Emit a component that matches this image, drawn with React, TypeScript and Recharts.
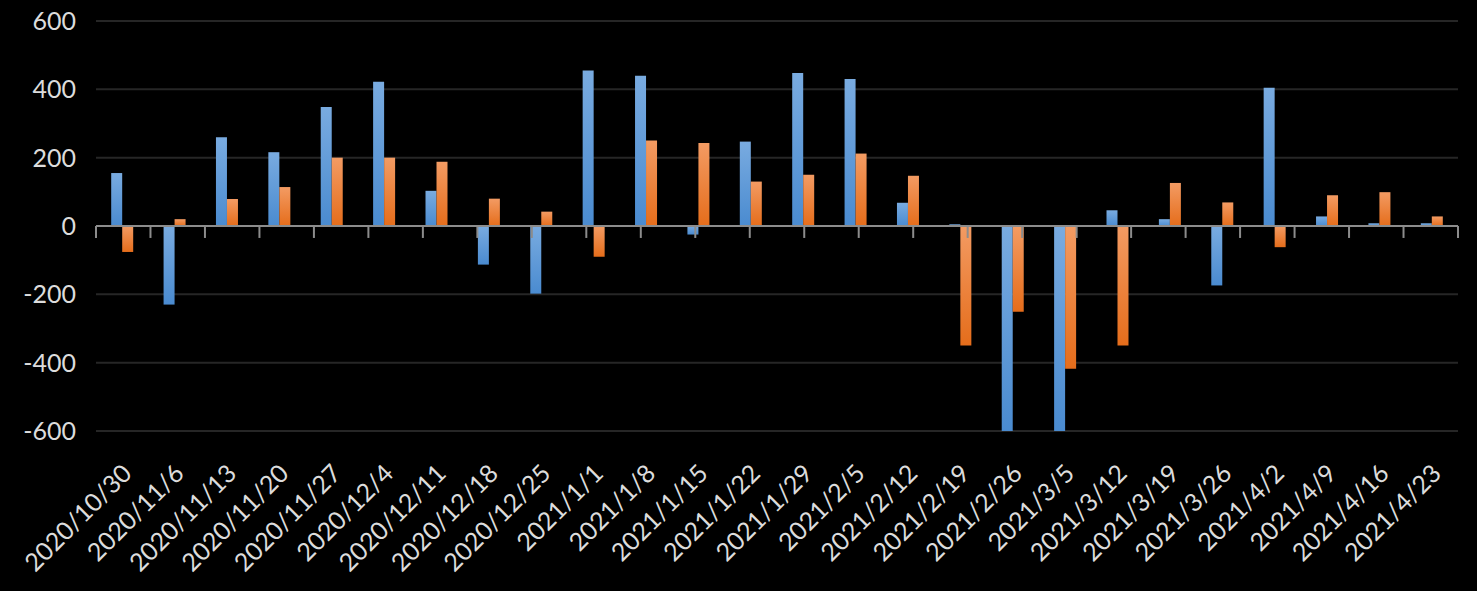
import { Bar, BarChart, CartesianGrid, ReferenceLine, XAxis, YAxis } from "recharts";

// 週次カテゴリ
const weeks = [
  "2020/10/30", "2020/11/6", "2020/11/13", "2020/11/20", "2020/11/27", "2020/12/4",
  "2020/12/11", "2020/12/18", "2020/12/25", "2021/1/1", "2021/1/8", "2021/1/15",
  "2021/1/22", "2021/1/29", "2021/2/5", "2021/2/12", "2021/2/19", "2021/2/26",
  "2021/3/5", "2021/3/12", "2021/3/19", "2021/3/26", "2021/4/2", "2021/4/9",
  "2021/4/16", "2021/4/23",
];

const blueValues = [
  155, -230, 260, 216, 348, 422, 103, -113, -198, 455, 440, -25, 247, 448, 430, 68,
  5, -600, -600, 46, 20, -174, 405, 28, 8, 8,
];

const orangeValues = [
  -76, 20, 79, 114, 200, 200, 188, 80, 42, -90, 250, 243, 130, 150, 212, 147, -350,
  -251, -418, -350, 126, 69, -62, 90, 99, 28,
];

const yTicks = [-600, -400, -200, 0, 200, 400, 600];

const rows = weeks.map((week, i) => ({
  week,
  blue: blueValues[i],
  orange: orangeValues[i],
}));

// カテゴリ境界の目盛り (0..26)
const edges = weeks.map((_, i) => i).concat(weeks.length);

const FONT = "Lato, 'Noto Sans', sans-serif";
const TEXT = "#dcdcdc";

function WeekTick({ x, y, payload }: any) {
  const ax = x + 11;
  const ay = y + 44;
  return (
    <text
      x={ax}
      y={ay}
      textAnchor="end"
      transform={`rotate(-45 ${ax} ${ay})`}
      fill={TEXT}
      fontSize={25}
      fontFamily={FONT}
    >
      {payload.value}
    </text>
  );
}

export default function App() {
  return (
    <div
      style={{
        position: "absolute",
        left: 0,
        top: 0,
        width: 1477,
        height: 591,
        background: "#000",
      }}
    >
      <BarChart
        width={1477}
        height={591}
        data={rows}
        margin={{ top: 21, right: 19, bottom: 0, left: 0 }}
        barGap={0}
        barCategoryGap="29%"
      >
        <defs>
          <linearGradient id="blueFill" x1="0" y1="0" x2="0" y2="1">
            <stop offset="0%" stopColor="#79abe0" />
            <stop offset="100%" stopColor="#4a8bd0" />
          </linearGradient>
          <linearGradient id="orangeFill" x1="0" y1="0" x2="0" y2="1">
            <stop offset="0%" stopColor="#f39b63" />
            <stop offset="100%" stopColor="#e56d1b" />
          </linearGradient>
        </defs>
        <CartesianGrid vertical={false} stroke="#262626" strokeWidth={2} />
        <XAxis
          xAxisId="cat"
          dataKey="week"
          interval={0}
          axisLine={false}
          tickLine={false}
          tickSize={0}
          tickMargin={0}
          height={160}
          tick={<WeekTick />}
        />
        <XAxis
          xAxisId="edges"
          type="number"
          domain={[0, weeks.length]}
          allowDataOverflow
          hide
        />
        <YAxis
          domain={[-600, 600]}
          ticks={yTicks}
          allowDataOverflow
          axisLine={false}
          tickLine={false}
          tickSize={0}
          tickMargin={20}
          width={96}
          tick={{ fill: TEXT, fontSize: 25, fontFamily: FONT }}
        />
        <Bar xAxisId="cat" dataKey="blue" fill="url(#blueFill)" isAnimationActive={false} />
        <Bar xAxisId="cat" dataKey="orange" fill="url(#orangeFill)" isAnimationActive={false} />
        <ReferenceLine xAxisId="cat" y={0} stroke="#8c8c8c" strokeWidth={2} />
        {edges.map((e) => (
          <ReferenceLine
            key={e}
            xAxisId="edges"
            segment={[
              { x: e, y: 0 },
              { x: e, y: -35 },
            ]}
            stroke="#8c8c8c"
            strokeWidth={2}
          />
        ))}
      </BarChart>
    </div>
  );
}
